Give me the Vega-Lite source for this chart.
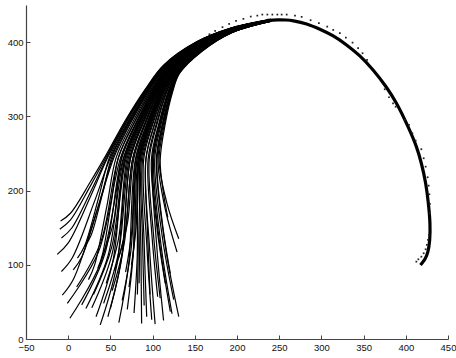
{
"$schema":"https://vega.github.io/schema/vega-lite/v6.json",
"width":422,"height":334,
"autosize":{"type":"none"},
"padding":{"left":26,"top":5,"right":8,"bottom":19},
"background":"white",
"config":{"view":{"stroke":null},
"axis":{"grid":false,"title":null,"domainColor":"#444","domainWidth":1.2,"tickColor":"#444","tickSize":-4,"tickWidth":1,"labelFont":"Liberation Sans","labelFontSize":9.5,"labelColor":"#111","labelFlush":false,"labelPadding":7}},
"datasets":{
"curves":[
{"c":1,"i":0,"x":-9,"y":159},{"c":1,"i":1,"x":2.7,"y":169.4},{"c":1,"i":2,"x":26,"y":211.2},{"c":1,"i":3,"x":44,"y":246},{"c":1,"i":4,"x":68,"y":295},{"c":1,"i":5,"x":91,"y":336},{"c":1,"i":6,"x":113,"y":369},{"c":1,"i":7,"x":152.5,"y":400.7},{"c":1,"i":8,"x":192,"y":418.7},{"c":1,"i":9,"x":240,"y":430.6},
{"c":2,"i":0,"x":-10,"y":148},{"c":2,"i":1,"x":2.2,"y":159.7},{"c":2,"i":2,"x":26.5,"y":206.7},{"c":2,"i":3,"x":45.3,"y":245.9},{"c":2,"i":4,"x":68.9,"y":294.9},{"c":2,"i":5,"x":91.7,"y":336},{"c":2,"i":6,"x":113.4,"y":368.8},{"c":2,"i":7,"x":152.6,"y":400.4},{"c":2,"i":8,"x":192,"y":418.6},{"c":2,"i":9,"x":240,"y":430.6},
{"c":3,"i":0,"x":-8,"y":136},{"c":3,"i":1,"x":4,"y":149.2},{"c":3,"i":2,"x":28,"y":201.9},{"c":3,"i":3,"x":46.6,"y":245.8},{"c":3,"i":4,"x":69.9,"y":294.8},{"c":3,"i":5,"x":92.3,"y":335.9},{"c":3,"i":6,"x":113.8,"y":368.6},{"c":3,"i":7,"x":152.7,"y":400.2},{"c":3,"i":8,"x":192.1,"y":418.5},{"c":3,"i":9,"x":240,"y":430.5},
{"c":4,"i":0,"x":-13,"y":114},{"c":4,"i":1,"x":0.3,"y":129.8},{"c":4,"i":2,"x":26.8,"y":193.1},{"c":4,"i":3,"x":47.3,"y":245.8},{"c":4,"i":4,"x":70.4,"y":294.8},{"c":4,"i":5,"x":92.7,"y":335.9},{"c":4,"i":6,"x":114,"y":368.5},{"c":4,"i":7,"x":152.8,"y":400.1},{"c":4,"i":8,"x":192.1,"y":418.4},{"c":4,"i":9,"x":240.1,"y":430.5},
{"c":7,"i":0,"x":11,"y":109},{"c":7,"i":1,"x":19.4,"y":125.4},{"c":7,"i":2,"x":36.2,"y":191},{"c":7,"i":3,"x":49.2,"y":245.6},{"c":7,"i":4,"x":71.8,"y":294.6},{"c":7,"i":5,"x":93.6,"y":335.8},{"c":7,"i":6,"x":114.5,"y":368.1},{"c":7,"i":7,"x":153,"y":399.7},{"c":7,"i":8,"x":192.1,"y":418.2},{"c":7,"i":9,"x":240.1,"y":430.4},
{"c":5,"i":0,"x":-8,"y":91},{"c":5,"i":1,"x":4.9,"y":109.5},{"c":5,"i":2,"x":30.6,"y":183.7},{"c":5,"i":3,"x":50.5,"y":245.5},{"c":5,"i":4,"x":72.7,"y":294.5},{"c":5,"i":5,"x":94.3,"y":335.8},{"c":5,"i":6,"x":114.9,"y":367.9},{"c":5,"i":7,"x":153.1,"y":399.4},{"c":5,"i":8,"x":192.2,"y":418.1},{"c":5,"i":9,"x":240.1,"y":430.4},
{"c":38,"i":0,"x":20,"y":125},{"c":38,"i":1,"x":27,"y":139.4},{"c":38,"i":2,"x":41,"y":197.2},{"c":38,"i":3,"x":51.8,"y":245.4},{"c":38,"i":4,"x":73.6,"y":294.4},{"c":38,"i":5,"x":95,"y":335.8},{"c":38,"i":6,"x":115.3,"y":367.7},{"c":38,"i":7,"x":153.2,"y":399.2},{"c":38,"i":8,"x":192.2,"y":418},{"c":38,"i":9,"x":240.1,"y":430.3},
{"c":6,"i":0,"x":6,"y":93},{"c":6,"i":1,"x":16.4,"y":111.3},{"c":6,"i":2,"x":37.1,"y":184.4},{"c":6,"i":3,"x":53.1,"y":245.3},{"c":6,"i":4,"x":74.6,"y":294.3},{"c":6,"i":5,"x":95.6,"y":335.7},{"c":6,"i":6,"x":115.7,"y":367.5},{"c":6,"i":7,"x":153.4,"y":398.9},{"c":6,"i":8,"x":192.2,"y":417.8},{"c":6,"i":9,"x":240.1,"y":430.3},
{"c":8,"i":0,"x":-7,"y":59},{"c":8,"i":1,"x":6.5,"y":81.3},{"c":8,"i":2,"x":33.5,"y":170.7},{"c":8,"i":3,"x":54.4,"y":245.2},{"c":8,"i":4,"x":75.5,"y":294.2},{"c":8,"i":5,"x":96.3,"y":335.7},{"c":8,"i":6,"x":116,"y":367.2},{"c":8,"i":7,"x":153.5,"y":398.6},{"c":8,"i":8,"x":192.2,"y":417.7},{"c":8,"i":9,"x":240.2,"y":430.2},
{"c":43,"i":0,"x":24,"y":80},{"c":43,"i":1,"x":31.3,"y":99.8},{"c":43,"i":2,"x":45.8,"y":179},{"c":43,"i":3,"x":57,"y":245},{"c":43,"i":4,"x":77.4,"y":294},{"c":43,"i":5,"x":97.6,"y":335.6},{"c":43,"i":6,"x":116.8,"y":366.8},{"c":43,"i":7,"x":153.7,"y":398.1},{"c":43,"i":8,"x":192.3,"y":417.5},{"c":43,"i":9,"x":240.2,"y":430.1},
{"c":37,"i":0,"x":35,"y":95},{"c":37,"i":1,"x":40.4,"y":113},{"c":37,"i":2,"x":51.2,"y":184.9},{"c":37,"i":3,"x":59.6,"y":244.8},{"c":37,"i":4,"x":79.3,"y":293.8},{"c":37,"i":5,"x":98.9,"y":335.5},{"c":37,"i":6,"x":117.6,"y":366.4},{"c":37,"i":7,"x":154,"y":397.6},{"c":37,"i":8,"x":192.4,"y":417.2},{"c":37,"i":9,"x":240.2,"y":430},
{"c":52,"i":0,"x":10,"y":70},{"c":52,"i":1,"x":38.8,"y":131.2},{"c":52,"i":2,"x":59.6,"y":244.8},{"c":52,"i":3,"x":79.3,"y":293.8},{"c":52,"i":4,"x":98.9,"y":335.5},{"c":52,"i":5,"x":117.6,"y":366.4},{"c":52,"i":6,"x":154,"y":397.6},{"c":52,"i":7,"x":192.4,"y":417.2},{"c":52,"i":8,"x":240.2,"y":430},
{"c":9,"i":0,"x":-1,"y":48},{"c":9,"i":1,"x":35.7,"y":116.8},{"c":9,"i":2,"x":62.2,"y":244.6},{"c":9,"i":3,"x":81.2,"y":293.6},{"c":9,"i":4,"x":100.2,"y":335.4},{"c":9,"i":5,"x":118.3,"y":365.9},{"c":9,"i":6,"x":154.2,"y":397.1},{"c":9,"i":7,"x":192.4,"y":417},{"c":9,"i":8,"x":240.3,"y":429.9},
{"c":11,"i":0,"x":16,"y":46},{"c":11,"i":1,"x":43.6,"y":115.5},{"c":11,"i":2,"x":63.5,"y":244.5},{"c":11,"i":3,"x":82.1,"y":293.5},{"c":11,"i":4,"x":100.9,"y":335.4},{"c":11,"i":5,"x":118.7,"y":365.7},{"c":11,"i":6,"x":154.3,"y":396.8},{"c":11,"i":7,"x":192.5,"y":416.8},{"c":11,"i":8,"x":240.3,"y":429.9},
{"c":50,"i":0,"x":40,"y":110},{"c":50,"i":1,"x":53.6,"y":157.1},{"c":50,"i":2,"x":63.5,"y":244.5},{"c":50,"i":3,"x":82.1,"y":293.5},{"c":50,"i":4,"x":100.9,"y":335.4},{"c":50,"i":5,"x":118.7,"y":365.7},{"c":50,"i":6,"x":154.3,"y":396.8},{"c":50,"i":7,"x":192.5,"y":416.8},{"c":50,"i":8,"x":240.3,"y":429.9},
{"c":10,"i":0,"x":2,"y":28},{"c":10,"i":1,"x":38.8,"y":103.7},{"c":10,"i":2,"x":65.5,"y":244.4},{"c":10,"i":3,"x":83.5,"y":293.4},{"c":10,"i":4,"x":101.9,"y":335.3},{"c":10,"i":5,"x":119.3,"y":365.4},{"c":10,"i":6,"x":154.5,"y":396.4},{"c":10,"i":7,"x":192.5,"y":416.7},{"c":10,"i":8,"x":240.3,"y":429.8},
{"c":12,"i":0,"x":21,"y":41},{"c":12,"i":1,"x":47.2,"y":112.2},{"c":12,"i":2,"x":66.1,"y":244.3},{"c":12,"i":3,"x":84,"y":293.3},{"c":12,"i":4,"x":102.2,"y":335.3},{"c":12,"i":5,"x":119.5,"y":365.3},{"c":12,"i":6,"x":154.6,"y":396.3},{"c":12,"i":7,"x":192.5,"y":416.6},{"c":12,"i":8,"x":240.3,"y":429.8},
{"c":14,"i":0,"x":30,"y":60},{"c":14,"i":1,"x":51.7,"y":124.5},{"c":14,"i":2,"x":67.4,"y":244.2},{"c":14,"i":3,"x":84.9,"y":293.2},{"c":14,"i":4,"x":102.9,"y":335.3},{"c":14,"i":5,"x":119.8,"y":365},{"c":14,"i":6,"x":154.7,"y":396},{"c":14,"i":7,"x":192.5,"y":416.5},{"c":14,"i":8,"x":240.4,"y":429.7},
{"c":53,"i":0,"x":33,"y":30},{"c":53,"i":1,"x":53,"y":105},{"c":53,"i":2,"x":67.4,"y":244.2},{"c":53,"i":3,"x":84.9,"y":293.2},{"c":53,"i":4,"x":102.9,"y":335.3},{"c":53,"i":5,"x":119.8,"y":365},{"c":53,"i":6,"x":154.7,"y":396},{"c":53,"i":7,"x":192.5,"y":416.5},{"c":53,"i":8,"x":240.4,"y":429.7},
{"c":13,"i":0,"x":28,"y":42},{"c":13,"i":1,"x":51.6,"y":112.7},{"c":13,"i":2,"x":68.7,"y":244.1},{"c":13,"i":3,"x":85.9,"y":293.1},{"c":13,"i":4,"x":103.5,"y":335.2},{"c":13,"i":5,"x":120.2,"y":364.8},{"c":13,"i":6,"x":154.8,"y":395.8},{"c":13,"i":7,"x":192.6,"y":416.3},{"c":13,"i":8,"x":240.4,"y":429.7},
{"c":17,"i":0,"x":45,"y":75},{"c":17,"i":1,"x":59.5,"y":134.2},{"c":17,"i":2,"x":70,"y":244},{"c":17,"i":3,"x":86.8,"y":293},{"c":17,"i":4,"x":104.2,"y":335.2},{"c":17,"i":5,"x":120.6,"y":364.6},{"c":17,"i":6,"x":154.9,"y":395.5},{"c":17,"i":7,"x":192.6,"y":416.2},{"c":17,"i":8,"x":240.4,"y":429.6},
{"c":15,"i":0,"x":38,"y":19},{"c":15,"i":1,"x":57.3,"y":97.7},{"c":15,"i":2,"x":71.3,"y":243.9},{"c":15,"i":3,"x":87.7,"y":292.9},{"c":15,"i":4,"x":104.9,"y":335.2},{"c":15,"i":5,"x":121,"y":364.4},{"c":15,"i":6,"x":155.1,"y":395.3},{"c":15,"i":7,"x":192.6,"y":416.1},{"c":15,"i":8,"x":240.4,"y":429.6},
{"c":42,"i":0,"x":42,"y":48},{"c":42,"i":1,"x":59.7,"y":116.5},{"c":42,"i":2,"x":72.6,"y":243.8},{"c":42,"i":3,"x":88.7,"y":292.8},{"c":42,"i":4,"x":105.5,"y":335.1},{"c":42,"i":5,"x":121.4,"y":364.2},{"c":42,"i":6,"x":155.2,"y":395},{"c":42,"i":7,"x":192.7,"y":416},{"c":42,"i":8,"x":240.4,"y":429.5},
{"c":16,"i":0,"x":50,"y":41},{"c":16,"i":1,"x":63.9,"y":112},{"c":16,"i":2,"x":73.9,"y":243.7},{"c":16,"i":3,"x":89.6,"y":292.7},{"c":16,"i":4,"x":106.2,"y":335.1},{"c":16,"i":5,"x":121.7,"y":363.9},{"c":16,"i":6,"x":155.3,"y":394.8},{"c":16,"i":7,"x":192.7,"y":415.8},{"c":16,"i":8,"x":240.5,"y":429.5},
{"c":46,"i":0,"x":47,"y":30},{"c":46,"i":1,"x":62.6,"y":104.8},{"c":46,"i":2,"x":73.9,"y":243.7},{"c":46,"i":3,"x":89.6,"y":292.7},{"c":46,"i":4,"x":106.2,"y":335.1},{"c":46,"i":5,"x":121.7,"y":363.9},{"c":46,"i":6,"x":155.3,"y":394.8},{"c":46,"i":7,"x":192.7,"y":415.8},{"c":46,"i":8,"x":240.5,"y":429.5},
{"c":20,"i":0,"x":55,"y":92},{"c":20,"i":1,"x":67.5,"y":145},{"c":20,"i":2,"x":76.5,"y":243.5},{"c":20,"i":3,"x":91.5,"y":292.5},{"c":20,"i":4,"x":107.5,"y":335},{"c":20,"i":5,"x":122.5,"y":363.5},{"c":20,"i":6,"x":155.6,"y":394.3},{"c":20,"i":7,"x":192.8,"y":415.6},{"c":20,"i":8,"x":240.5,"y":429.4},
{"c":55,"i":0,"x":52,"y":65},{"c":55,"i":1,"x":66.2,"y":127.5},{"c":55,"i":2,"x":76.5,"y":243.5},{"c":55,"i":3,"x":91.5,"y":292.5},{"c":55,"i":4,"x":107.5,"y":335},{"c":55,"i":5,"x":122.5,"y":363.5},{"c":55,"i":6,"x":155.6,"y":394.3},{"c":55,"i":7,"x":192.8,"y":415.6},{"c":55,"i":8,"x":240.5,"y":429.4},
{"c":45,"i":0,"x":60,"y":110},{"c":45,"i":1,"x":70.3,"y":156.7},{"c":45,"i":2,"x":77.8,"y":243.4},{"c":45,"i":3,"x":92.4,"y":292.4},{"c":45,"i":4,"x":108.2,"y":335},{"c":45,"i":5,"x":122.9,"y":363.3},{"c":45,"i":6,"x":155.7,"y":394},{"c":45,"i":7,"x":192.8,"y":415.5},{"c":45,"i":8,"x":240.5,"y":429.3},
{"c":19,"i":0,"x":60,"y":22},{"c":19,"i":1,"x":71.5,"y":99.5},{"c":19,"i":2,"x":79.8,"y":243.3},{"c":19,"i":3,"x":93.9,"y":292.3},{"c":19,"i":4,"x":109.2,"y":334.9},{"c":19,"i":5,"x":123.5,"y":363},{"c":19,"i":6,"x":155.9,"y":393.6},{"c":19,"i":7,"x":192.8,"y":415.3},{"c":19,"i":8,"x":240.6,"y":429.2},
{"c":40,"i":0,"x":68,"y":90},{"c":40,"i":1,"x":75.2,"y":143.6},{"c":40,"i":2,"x":80.4,"y":243.2},{"c":40,"i":3,"x":94.3,"y":292.2},{"c":40,"i":4,"x":109.5,"y":334.9},{"c":40,"i":5,"x":123.6,"y":362.8},{"c":40,"i":6,"x":155.9,"y":393.5},{"c":40,"i":7,"x":192.8,"y":415.2},{"c":40,"i":8,"x":240.6,"y":429.2},
{"c":18,"i":0,"x":64,"y":52},{"c":18,"i":1,"x":74.3,"y":118.9},{"c":18,"i":2,"x":81.7,"y":243.1},{"c":18,"i":3,"x":95.3,"y":292.1},{"c":18,"i":4,"x":110.1,"y":334.8},{"c":18,"i":5,"x":124,"y":362.6},{"c":18,"i":6,"x":156,"y":393.2},{"c":18,"i":7,"x":192.9,"y":415.1},{"c":18,"i":8,"x":240.6,"y":429.2},
{"c":47,"i":0,"x":70,"y":40},{"c":47,"i":1,"x":76.8,"y":111.1},{"c":47,"i":2,"x":81.7,"y":243.1},{"c":47,"i":3,"x":95.3,"y":292.1},{"c":47,"i":4,"x":110.1,"y":334.8},{"c":47,"i":5,"x":124,"y":362.6},{"c":47,"i":6,"x":156,"y":393.2},{"c":47,"i":7,"x":192.9,"y":415.1},{"c":47,"i":8,"x":240.6,"y":429.2},
{"c":21,"i":0,"x":72,"y":70},{"c":21,"i":1,"x":78.4,"y":130.6},{"c":21,"i":2,"x":83,"y":243},{"c":21,"i":3,"x":96.2,"y":292},{"c":21,"i":4,"x":110.8,"y":334.8},{"c":21,"i":5,"x":124.4,"y":362.4},{"c":21,"i":6,"x":156.2,"y":393},{"c":21,"i":7,"x":192.9,"y":415},{"c":21,"i":8,"x":240.6,"y":429.1},
{"c":39,"i":0,"x":82,"y":60},{"c":39,"i":1,"x":83,"y":124},{"c":39,"i":2,"x":83.7,"y":243},{"c":39,"i":3,"x":96.7,"y":292},{"c":39,"i":4,"x":111.1,"y":334.8},{"c":39,"i":5,"x":124.6,"y":362.3},{"c":39,"i":6,"x":156.2,"y":392.8},{"c":39,"i":7,"x":192.9,"y":414.9},{"c":39,"i":8,"x":240.6,"y":429.1},
{"c":22,"i":0,"x":78,"y":35},{"c":22,"i":1,"x":81.7,"y":107.8},{"c":22,"i":2,"x":84.3,"y":242.9},{"c":22,"i":3,"x":97.1,"y":291.9},{"c":22,"i":4,"x":111.5,"y":334.8},{"c":22,"i":5,"x":124.8,"y":362.2},{"c":22,"i":6,"x":156.3,"y":392.7},{"c":22,"i":7,"x":192.9,"y":414.9},{"c":22,"i":8,"x":240.6,"y":429.1},
{"c":54,"i":0,"x":75,"y":100},{"c":54,"i":1,"x":80.4,"y":150},{"c":54,"i":2,"x":84.3,"y":242.9},{"c":54,"i":3,"x":97.1,"y":291.9},{"c":54,"i":4,"x":111.5,"y":334.8},{"c":54,"i":5,"x":124.8,"y":362.2},{"c":54,"i":6,"x":156.3,"y":392.7},{"c":54,"i":7,"x":192.9,"y":414.9},{"c":54,"i":8,"x":240.6,"y":429.1},
{"c":23,"i":0,"x":87,"y":21},{"c":23,"i":1,"x":86.2,"y":120.8},{"c":23,"i":2,"x":85.6,"y":242.8},{"c":23,"i":3,"x":98.1,"y":291.8},{"c":23,"i":4,"x":112.1,"y":334.7},{"c":23,"i":5,"x":125.2,"y":362},{"c":23,"i":6,"x":156.4,"y":392.4},{"c":23,"i":7,"x":193,"y":414.7},{"c":23,"i":8,"x":240.6,"y":429},
{"c":48,"i":0,"x":84,"y":75},{"c":48,"i":1,"x":85,"y":150.5},{"c":48,"i":2,"x":85.6,"y":242.8},{"c":48,"i":3,"x":98.1,"y":291.8},{"c":48,"i":4,"x":112.1,"y":334.7},{"c":48,"i":5,"x":125.2,"y":362},{"c":48,"i":6,"x":156.4,"y":392.4},{"c":48,"i":7,"x":193,"y":414.7},{"c":48,"i":8,"x":240.6,"y":429},
{"c":41,"i":0,"x":90,"y":45},{"c":41,"i":1,"x":88.1,"y":134},{"c":41,"i":2,"x":86.9,"y":242.7},{"c":41,"i":3,"x":99,"y":291.7},{"c":41,"i":4,"x":112.8,"y":334.7},{"c":41,"i":5,"x":125.5,"y":361.7},{"c":41,"i":6,"x":156.5,"y":392.2},{"c":41,"i":7,"x":193,"y":414.6},{"c":41,"i":8,"x":240.7,"y":429},
{"c":24,"i":0,"x":93,"y":30},{"c":24,"i":1,"x":90.1,"y":125.7},{"c":24,"i":2,"x":88.2,"y":242.6},{"c":24,"i":3,"x":100,"y":291.6},{"c":24,"i":4,"x":113.4,"y":334.6},{"c":24,"i":5,"x":125.9,"y":361.5},{"c":24,"i":6,"x":156.6,"y":391.9},{"c":24,"i":7,"x":193,"y":414.5},{"c":24,"i":8,"x":240.7,"y":428.9},
{"c":25,"i":0,"x":99,"y":26},{"c":25,"i":1,"x":93.3,"y":123.4},{"c":25,"i":2,"x":89.5,"y":242.5},{"c":25,"i":3,"x":100.9,"y":291.5},{"c":25,"i":4,"x":114.1,"y":334.6},{"c":25,"i":5,"x":126.3,"y":361.3},{"c":25,"i":6,"x":156.8,"y":391.7},{"c":25,"i":7,"x":193.1,"y":414.4},{"c":25,"i":8,"x":240.7,"y":428.9},
{"c":26,"i":0,"x":103,"y":20},{"c":26,"i":1,"x":96.5,"y":120},{"c":26,"i":2,"x":92.1,"y":242.3},{"c":26,"i":3,"x":102.8,"y":291.3},{"c":26,"i":4,"x":115.4,"y":334.5},{"c":26,"i":5,"x":127.1,"y":360.9},{"c":26,"i":6,"x":157,"y":391.2},{"c":26,"i":7,"x":193.1,"y":414.1},{"c":26,"i":8,"x":240.7,"y":428.8},
{"c":49,"i":0,"x":97,"y":60},{"c":49,"i":1,"x":94.1,"y":142},{"c":49,"i":2,"x":92.1,"y":242.3},{"c":49,"i":3,"x":102.8,"y":291.3},{"c":49,"i":4,"x":115.4,"y":334.5},{"c":49,"i":5,"x":127.1,"y":360.9},{"c":49,"i":6,"x":157,"y":391.2},{"c":49,"i":7,"x":193.1,"y":414.1},{"c":49,"i":8,"x":240.7,"y":428.8},
{"c":36,"i":0,"x":106,"y":57},{"c":36,"i":1,"x":99.2,"y":140.3},{"c":36,"i":2,"x":94.7,"y":242.1},{"c":36,"i":3,"x":104.7,"y":291.1},{"c":36,"i":4,"x":116.7,"y":334.4},{"c":36,"i":5,"x":127.8,"y":360.4},{"c":36,"i":6,"x":157.3,"y":390.6},{"c":36,"i":7,"x":193.2,"y":413.9},{"c":36,"i":8,"x":240.8,"y":428.7},
{"c":27,"i":0,"x":109,"y":55},{"c":27,"i":1,"x":101.2,"y":139.2},{"c":27,"i":2,"x":96,"y":242},{"c":27,"i":3,"x":105.6,"y":291},{"c":27,"i":4,"x":117.4,"y":334.4},{"c":27,"i":5,"x":128.2,"y":360.2},{"c":27,"i":6,"x":157.4,"y":390.4},{"c":27,"i":7,"x":193.2,"y":413.7},{"c":27,"i":8,"x":240.8,"y":428.6},
{"c":44,"i":0,"x":115,"y":75},{"c":44,"i":1,"x":105.2,"y":150.1},{"c":44,"i":2,"x":98.6,"y":241.8},{"c":44,"i":3,"x":107.5,"y":290.8},{"c":44,"i":4,"x":118.7,"y":334.3},{"c":44,"i":5,"x":129,"y":359.8},{"c":44,"i":6,"x":157.6,"y":389.9},{"c":44,"i":7,"x":193.3,"y":413.5},{"c":44,"i":8,"x":240.8,"y":428.5},
{"c":28,"i":0,"x":121,"y":37},{"c":28,"i":1,"x":108.3,"y":129.1},{"c":28,"i":2,"x":99.9,"y":241.7},{"c":28,"i":3,"x":108.4,"y":290.7},{"c":28,"i":4,"x":119.4,"y":334.3},{"c":28,"i":5,"x":129.3,"y":359.5},{"c":28,"i":6,"x":157.7,"y":389.6},{"c":28,"i":7,"x":193.3,"y":413.4},{"c":28,"i":8,"x":240.9,"y":428.5},
{"c":51,"i":0,"x":113,"y":25},{"c":51,"i":1,"x":105.1,"y":122.5},{"c":51,"i":2,"x":99.9,"y":241.7},{"c":51,"i":3,"x":108.4,"y":290.7},{"c":51,"i":4,"x":119.4,"y":334.3},{"c":51,"i":5,"x":129.3,"y":359.5},{"c":51,"i":6,"x":157.7,"y":389.6},{"c":51,"i":7,"x":193.3,"y":413.4},{"c":51,"i":8,"x":240.9,"y":428.5},
{"c":29,"i":0,"x":123,"y":34},{"c":29,"i":1,"x":109.9,"y":127.4},{"c":29,"i":2,"x":101.2,"y":241.6},{"c":29,"i":3,"x":109.4,"y":290.6},{"c":29,"i":4,"x":120,"y":334.2},{"c":29,"i":5,"x":129.7,"y":359.3},{"c":29,"i":6,"x":157.9,"y":389.3},{"c":29,"i":7,"x":193.3,"y":413.2},{"c":29,"i":8,"x":240.9,"y":428.4},
{"c":31,"i":0,"x":125,"y":53},{"c":31,"i":1,"x":111.5,"y":137.8},{"c":31,"i":2,"x":102.5,"y":241.5},{"c":31,"i":3,"x":110.3,"y":290.5},{"c":31,"i":4,"x":120.7,"y":334.2},{"c":31,"i":5,"x":130.1,"y":359.1},{"c":31,"i":6,"x":158,"y":389.1},{"c":31,"i":7,"x":193.4,"y":413.1},{"c":31,"i":8,"x":240.9,"y":428.4},
{"c":30,"i":0,"x":131,"y":30},{"c":30,"i":1,"x":115.1,"y":125.1},{"c":30,"i":2,"x":104.5,"y":241.4},{"c":30,"i":3,"x":111.7,"y":290.4},{"c":30,"i":4,"x":121.7,"y":334.1},{"c":30,"i":5,"x":130.7,"y":358.8},{"c":30,"i":6,"x":158.2,"y":388.7},{"c":30,"i":7,"x":193.4,"y":412.9},{"c":30,"i":8,"x":240.9,"y":428.3},
{"c":32,"i":0,"x":121,"y":88},{"c":32,"i":1,"x":111.5,"y":157},{"c":32,"i":2,"x":105.1,"y":241.3},{"c":32,"i":3,"x":112.2,"y":290.3},{"c":32,"i":4,"x":122,"y":334.1},{"c":32,"i":5,"x":130.9,"y":358.7},{"c":32,"i":6,"x":158.2,"y":388.6},{"c":32,"i":7,"x":193.4,"y":412.9},{"c":32,"i":8,"x":240.9,"y":428.3},
{"c":33,"i":0,"x":129,"y":117},{"c":33,"i":1,"x":115.4,"y":172.9},{"c":33,"i":2,"x":106.4,"y":241.2},{"c":33,"i":3,"x":113.1,"y":290.2},{"c":33,"i":4,"x":122.7,"y":334.1},{"c":33,"i":5,"x":131.2,"y":358.4},{"c":33,"i":6,"x":158.4,"y":388.3},{"c":33,"i":7,"x":193.4,"y":412.7},{"c":33,"i":8,"x":241,"y":428.2},
{"c":34,"i":0,"x":131,"y":135},{"c":34,"i":1,"x":117,"y":182.7},{"c":34,"i":2,"x":107.7,"y":241.1},{"c":34,"i":3,"x":114.1,"y":290.1},{"c":34,"i":4,"x":123.3,"y":334},{"c":34,"i":5,"x":131.6,"y":358.2},{"c":34,"i":6,"x":158.5,"y":388.1},{"c":34,"i":7,"x":193.5,"y":412.6},{"c":34,"i":8,"x":241,"y":428.2},
{"c":35,"i":0,"x":118,"y":164},{"c":35,"i":1,"x":112.6,"y":198.7},{"c":35,"i":2,"x":109,"y":241},{"c":35,"i":3,"x":115,"y":290},{"c":35,"i":4,"x":124,"y":334},{"c":35,"i":5,"x":132,"y":358},{"c":35,"i":6,"x":158.6,"y":387.8},{"c":35,"i":7,"x":193.5,"y":412.5},{"c":35,"i":8,"x":241,"y":428.1}
],
"arc":[
{"i":0,"x":236,"y":429.3},{"i":1,"x":248,"y":430},{"i":2,"x":258,"y":429.8},{"i":3,"x":267,"y":428.6},{"i":4,"x":282.5,"y":424.5},{"i":5,"x":298.2,"y":417.4},{"i":6,"x":314,"y":408.4},{"i":7,"x":329.8,"y":396.2},{"i":8,"x":345.5,"y":381.4},{"i":9,"x":361.2,"y":362.5},{"i":10,"x":377,"y":339.2},{"i":11,"x":388.9,"y":317.6},{"i":12,"x":402.6,"y":286.1},{"i":13,"x":412.5,"y":259.2},{"i":14,"x":418.4,"y":236.8},{"i":15,"x":423.5,"y":209.8},{"i":16,"x":426.7,"y":182.9},{"i":17,"x":428.6,"y":155.9},{"i":18,"x":428.3,"y":133.4},{"i":19,"x":426.2,"y":117.7},{"i":20,"x":423.2,"y":108.8},{"i":21,"x":419.6,"y":102.8},{"i":22,"x":417.3,"y":99.7}
],
"dots":[
{"x":167.4,"y":410.6},{"x":174.1,"y":415.1},{"x":182.8,"y":420.1},{"x":190.7,"y":424.5},{"x":198.9,"y":428.6},{"x":207.6,"y":431.3},{"x":216.3,"y":434.4},{"x":224.1,"y":435.7},{"x":230,"y":437.1},{"x":236,"y":437.1},{"x":241.9,"y":437.1},{"x":247.8,"y":437.1},{"x":252.9,"y":437.1},{"x":258.9,"y":437.1},{"x":268.7,"y":435.7},{"x":276.6,"y":434},{"x":287.2,"y":429.5},{"x":297,"y":425.5},{"x":306.9,"y":420.9},{"x":314,"y":416.4},{"x":321.9,"y":412},{"x":329,"y":406},{"x":336.9,"y":399.3},{"x":343.5,"y":391.8},{"x":348.7,"y":385},{"x":354.1,"y":376},{"x":375,"y":336.5},{"x":380.1,"y":325.7},{"x":384.9,"y":317.6},{"x":388,"y":313},{"x":398.7,"y":295.1},{"x":403.8,"y":288.4},{"x":407.8,"y":277.2},{"x":411.7,"y":267.3},{"x":418.4,"y":255.7},{"x":421.2,"y":243.5},{"x":423.5,"y":232.2},{"x":425.9,"y":217.9},{"x":427.1,"y":206.6},{"x":427.9,"y":195},{"x":428.6,"y":181.9},{"x":428.6,"y":169.4},{"x":427.4,"y":140.2},{"x":426.3,"y":133.4},{"x":425,"y":126.7},{"x":423.5,"y":120.9},{"x":421.2,"y":115.5},{"x":418.4,"y":110.9},{"x":414.9,"y":107.4},{"x":412.5,"y":104.2}
]},
"layer":[
{"data":{"name":"curves"},
"mark":{"type":"line","interpolate":"catmull-rom","strokeWidth":1.2,"color":"black"},
"encoding":{
"x":{"field":"x","type":"quantitative","scale":{"domain":[-50,450],"nice":false,"zero":false},"axis":{"values":[-50,0,50,100,150,200,250,300,350,400,450]}},
"y":{"field":"y","type":"quantitative","scale":{"domain":[0,450],"nice":false,"zero":false},"axis":{"values":[0,50,100,150,200,250,300,350,400,450]}},
"detail":{"field":"c","type":"nominal"},
"order":{"field":"i","type":"quantitative"}}},
{"data":{"name":"arc"},
"mark":{"type":"line","interpolate":"catmull-rom","strokeWidth":3.2,"color":"black"},
"encoding":{
"x":{"field":"x","type":"quantitative"},
"y":{"field":"y","type":"quantitative"},
"order":{"field":"i","type":"quantitative"}}},
{"data":{"name":"dots"},
"mark":{"type":"square","size":3,"color":"#222","opacity":1},
"encoding":{
"x":{"field":"x","type":"quantitative"},
"y":{"field":"y","type":"quantitative"}}}
]
}
